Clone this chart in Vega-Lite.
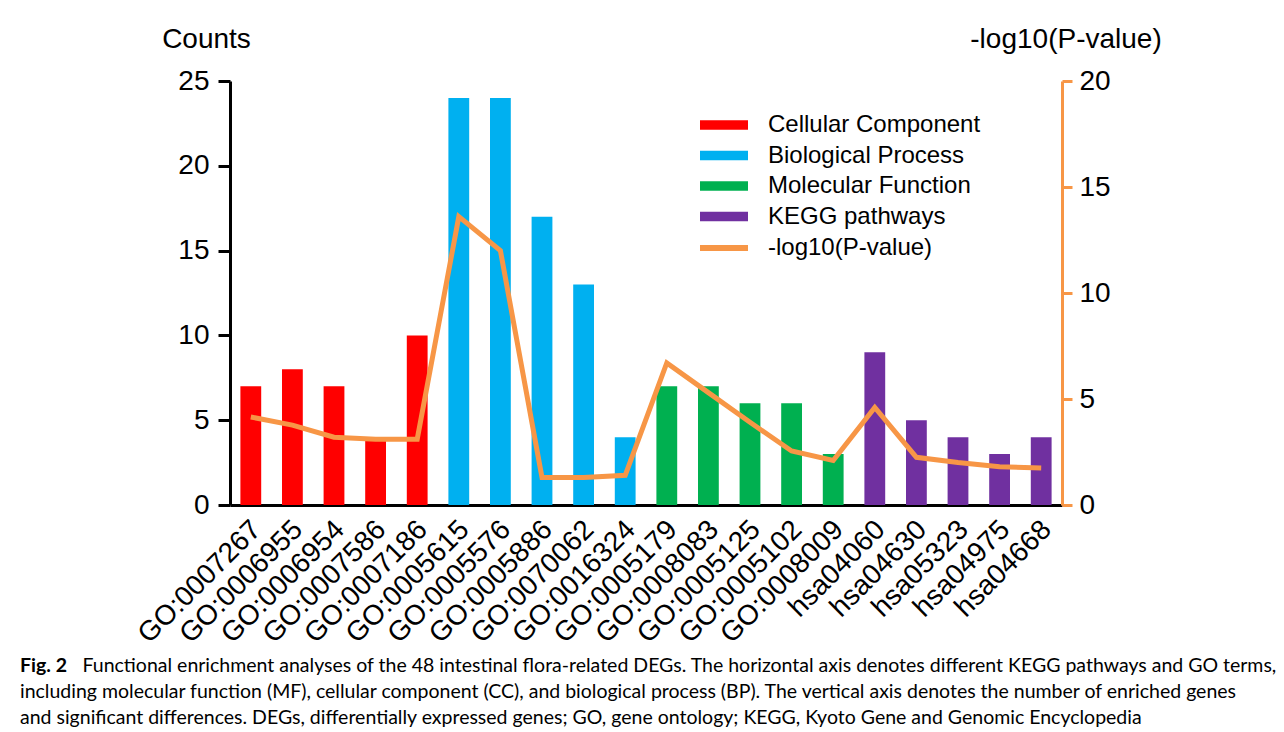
{
  "$schema": "https://vega.github.io/schema/vega-lite/v6.json",
  "width": 832,
  "height": 424,
  "autosize": {"type": "none"},
  "padding": {"left": 230, "top": 81, "right": 222, "bottom": 227},
  "background": "white",
  "config": {
    "view": {"stroke": null},
    "font": "Liberation Sans",
    "axis": {"grid": false, "labelFont": "Liberation Sans", "titleFont": "Liberation Sans", "labelColor": "black", "titleColor": "black"}
  },
  "title": {
    "text": "Fig. 2",
    "subtitle": [
      "including molecular function (MF), cellular component (CC), and biological process (BP). The vertical axis denotes the number of enriched genes",
      "and significant differences. DEGs, differentially expressed genes; GO, gene ontology; KEGG, Kyoto Gene and Genomic Encyclopedia"
    ],
    "orient": "bottom",
    "anchor": "start",
    "frame": "group",
    "dx": -210,
    "offset": 0,
    "dy": -18,
    "font": "Lato",
    "fontSize": 19.5,
    "fontWeight": "bold",
    "color": "black",
    "subtitleFont": "Lato",
    "subtitleFontSize": 19.5,
    "subtitleColor": "black",
    "subtitleLineHeight": 26,
    "subtitlePadding": 7
  },
  "data": {
    "values": [
      {"term": "GO:0007267", "category": "Cellular Component", "count": 7, "logp": 4.15},
      {"term": "GO:0006955", "category": "Cellular Component", "count": 8, "logp": 3.77},
      {"term": "GO:0006954", "category": "Cellular Component", "count": 7, "logp": 3.2},
      {"term": "GO:0007586", "category": "Cellular Component", "count": 4, "logp": 3.1},
      {"term": "GO:0007186", "category": "Cellular Component", "count": 10, "logp": 3.1},
      {"term": "GO:0005615", "category": "Biological Process", "count": 24, "logp": 13.6},
      {"term": "GO:0005576", "category": "Biological Process", "count": 24, "logp": 12.0},
      {"term": "GO:0005886", "category": "Biological Process", "count": 17, "logp": 1.3},
      {"term": "GO:0070062", "category": "Biological Process", "count": 13, "logp": 1.3},
      {"term": "GO:0016324", "category": "Biological Process", "count": 4, "logp": 1.4},
      {"term": "GO:0005179", "category": "Molecular Function", "count": 7, "logp": 6.7},
      {"term": "GO:0008083", "category": "Molecular Function", "count": 7, "logp": 5.3},
      {"term": "GO:0005125", "category": "Molecular Function", "count": 6, "logp": 3.9},
      {"term": "GO:0005102", "category": "Molecular Function", "count": 6, "logp": 2.55},
      {"term": "GO:0008009", "category": "Molecular Function", "count": 3, "logp": 2.1},
      {"term": "hsa04060", "category": "KEGG pathways", "count": 9, "logp": 4.6},
      {"term": "hsa04630", "category": "KEGG pathways", "count": 5, "logp": 2.25},
      {"term": "hsa05323", "category": "KEGG pathways", "count": 4, "logp": 2.0},
      {"term": "hsa04975", "category": "KEGG pathways", "count": 3, "logp": 1.8},
      {"term": "hsa04668", "category": "KEGG pathways", "count": 4, "logp": 1.75}
    ]
  },
  "encoding": {
    "x": {
      "field": "term",
      "type": "nominal",
      "sort": null,
      "scale": {"paddingInner": 0.5, "paddingOuter": 0.25},
      "axis": {
        "title": "Functional enrichment analyses of the 48 intestinal flora-related DEGs. The horizontal axis denotes different KEGG pathways and GO terms,",
        "titleFont": "Lato",
        "titleFontSize": 19.5,
        "titleFontWeight": "normal",
        "titleX": -148,
        "titleY": 166,
        "titleAlign": "left",
        "titleBaseline": "alphabetic",
        "titleLimit": 1300,
        "labelAngle": -45,
        "labelAlign": "right",
        "labelBaseline": "middle",
        "labelFontSize": 28,
        "labelPadding": 20,
        "labelOffset": 6,
        "ticks": false,
        "domainColor": "black",
        "domainWidth": 3
      }
    }
  },
  "layer": [
    {
      "mark": {"type": "bar"},
      "encoding": {
        "y": {
          "field": "count",
          "type": "quantitative",
          "scale": {"domain": [0, 25], "nice": false},
          "axis": {
            "orient": "left",
            "values": [0, 5, 10, 15, 20, 25],
            "title": "Counts",
            "titleAngle": 0,
            "titleX": -24,
            "titleY": -34,
            "titleAlign": "center",
            "titleBaseline": "alphabetic",
            "titleFontSize": 28,
            "titleFontWeight": "normal",
            "labelFontSize": 28,
            "labelPadding": 9,
            "tickSize": 12,
            "tickWidth": 3,
            "tickColor": "black",
            "domainColor": "black",
            "domainWidth": 3
          }
        },
        "color": {
          "field": "category",
          "type": "nominal",
          "scale": {
            "domain": ["Cellular Component", "Biological Process", "Molecular Function", "KEGG pathways"],
            "range": ["#FF0000", "#00B0F0", "#00B050", "#7030A0"]
          },
          "legend": {
            "orient": "none",
            "legendX": 482,
            "legendY": 32,
            "title": null,
            "padding": 0,
            "symbolType": "M-2,-0.4H2V0.4H-2Z",
            "symbolSize": 576,
            "symbolStrokeWidth": 0,
            "symbolOpacity": 1,
            "labelFontSize": 24,
            "labelFont": "Liberation Sans",
            "labelColor": "black",
            "labelLimit": 400,
            "labelOffset": 32,
            "rowPadding": 6.5
          }
        }
      }
    },
    {
      "mark": {"type": "line", "strokeWidth": 5, "strokeJoin": "miter"},
      "encoding": {
        "y": {
          "field": "logp",
          "type": "quantitative",
          "scale": {"domain": [0, 20], "nice": false},
          "axis": {
            "orient": "right",
            "values": [0, 5, 10, 15, 20],
            "title": "-log10(P-value)",
            "titleAngle": 0,
            "titleX": 3.5,
            "titleY": -34,
            "titleAlign": "center",
            "titleBaseline": "alphabetic",
            "titleFontSize": 28,
            "titleFontWeight": "normal",
            "labelFontSize": 28,
            "labelPadding": 7,
            "tickSize": 10,
            "tickWidth": 3,
            "tickColor": "#F79646",
            "domainColor": "#F79646",
            "domainWidth": 3
          }
        },
        "stroke": {
          "datum": "-log10(P-value)",
          "type": "nominal",
          "scale": {"range": ["#F79646"]},
          "legend": {
            "orient": "none",
            "legendX": 479,
            "legendY": 152,
            "title": null,
            "padding": 0,
            "symbolType": "M-2,0H2",
            "symbolSize": 576,
            "symbolStrokeWidth": 6,
            "symbolOpacity": 1,
            "labelFontSize": 24,
            "labelFont": "Liberation Sans",
            "labelColor": "black",
            "labelLimit": 400,
            "labelOffset": 29
          }
        }
      }
    }
  ],
  "resolve": {"scale": {"y": "independent"}}
}
